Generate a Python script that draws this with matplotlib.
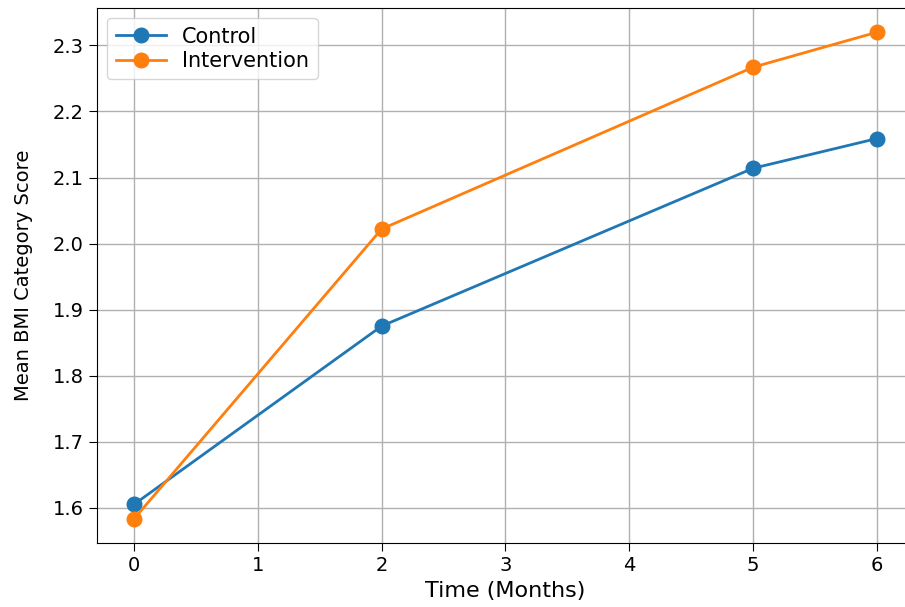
import matplotlib
matplotlib.use('Agg')
import matplotlib.pyplot as plt

months = [0, 2, 5, 6]
control = [1.605, 1.875, 2.114, 2.159]
intervention = [1.583, 2.022, 2.267, 2.320]

def main():
    fig = plt.figure(figsize=(9.05, 6.07), dpi=100)
    # right spine sits just outside the picture, as in the reference
    ax = fig.add_axes([0.107, 0.105, 0.903, 0.882])

    ax.plot(months, control, marker='o', markersize=10.5, linewidth=2, label='Control')
    ax.plot(months, intervention, marker='o', markersize=10.5, linewidth=2, label='Intervention')

    ax.set_xlabel('Time (Months)', fontsize=16, labelpad=4)
    ax.set_ylabel('Mean BMI Category Score', fontsize=14, labelpad=14)
    ax.tick_params(labelsize=14, length=6)
    ax.grid(True, linewidth=1)
    ax.legend(fontsize=15, loc='upper left', labelspacing=0.2, handlelength=2.4,
              borderaxespad=0.5)

    fig.savefig('out.png', dpi=100)


if __name__ == '__main__':
    main()
